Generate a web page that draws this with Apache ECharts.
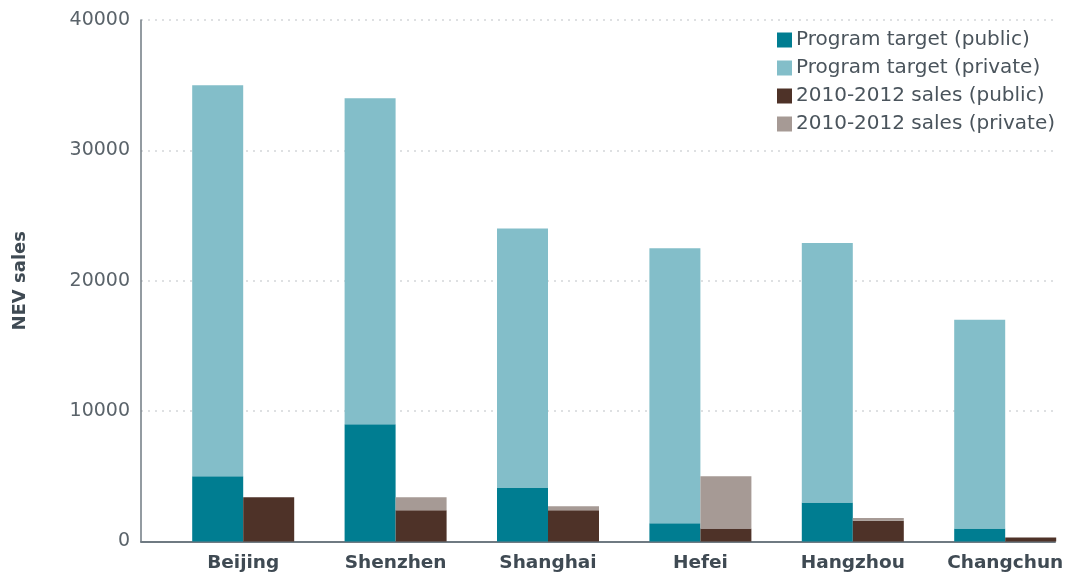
<!DOCTYPE html>
<html><head><meta charset="utf-8">
<script src="https://cdn.jsdelivr.net/npm/echarts@6/dist/echarts.min.js"></script>
<style>html,body{margin:0;padding:0;background:#fff}#c{width:1068px;height:575px}</style>
</head><body><div id="c"></div>
<script>
const categories = ['Beijing','Shenzhen','Shanghai','Hefei','Hangzhou','Changchun'];
const targetPublic = [5000, 9000, 4100, 1400, 3000, 1000];
const targetPrivate = [30000, 25000, 19900, 21100, 19900, 16000];
const salesPublic = [3400, 2400, 2400, 1000, 1600, 300];
const salesPrivate = [0, 1000, 300, 4000, 200, 0];
const yTicks = [0, 10000, 20000, 30000, 40000];

const font = '"DejaVu Sans", "Noto Sans", sans-serif';
const chart = echarts.init(document.getElementById('c'));
const barCommon = {type: 'bar', xAxisIndex: 1, yAxisIndex: 1, barWidth: 51, barGap: '0%', clip: false};
chart.setOption({
  animation: false,
  legend: {
    orient: 'vertical', left: 772, top: 25, itemWidth: 15, itemHeight: 15, itemGap: 8,
    icon: 'rect',
    textStyle: {fontFamily: font, fontSize: 20, color: '#4a545c', lineHeight: 16, padding: [0,0,0,-1]},
    data: ['Program target (public)','Program target (private)','2010-2012 sales (public)','2010-2012 sales (private)']
  },
  grid: [
    {left: 141, top: 20, width: 914, height: 521.5},
    {left: 243.2, top: 20, width: 762, height: 521.5}
  ],
  xAxis: [
    {type: 'category', gridIndex: 0, data: [''], axisLine: {lineStyle: {color: '#6f7a82', width: 2}}, axisTick: {show: false}, axisLabel: {show: false}},
    {type: 'category', gridIndex: 1, data: categories, boundaryGap: false, axisLine: {show: false}, axisTick: {show: false},
      splitLine: {show: false},
      axisLabel: {fontFamily: font, fontSize: 18.5, fontWeight: 'bold', color: '#3f4a53', margin: 12}}
  ],
  yAxis: [
    {type: 'value', gridIndex: 0, min: yTicks[0], max: yTicks[yTicks.length-1], interval: 10000,
      name: 'NEV sales', nameLocation: 'middle', nameGap: 112, nameRotate: 90,
      nameTextStyle: {fontFamily: font, fontSize: 18, fontWeight: 'bold', color: '#3f4a53'},
      axisLine: {show: true, lineStyle: {color: '#6f7a82', width: 1.5}}, axisTick: {show: false},
      axisLabel: {fontFamily: font, fontSize: 19, color: '#5a636a', margin: 11, formatter: v => String(v)},
      splitLine: {show: true, lineStyle: {color: '#d3d6d9', type: [2, 5], width: 1.5}}},
    {type: 'value', gridIndex: 1, min: yTicks[0], max: yTicks[yTicks.length-1], interval: 10000, show: false, splitLine: {show: false}}
  ],
  series: [
    Object.assign({name: 'Program target (public)', stack: 't', data: targetPublic, itemStyle: {color: '#007d91'}}, barCommon),
    Object.assign({name: 'Program target (private)', stack: 't', data: targetPrivate, itemStyle: {color: '#83bec9'}}, barCommon),
    Object.assign({name: '2010-2012 sales (public)', stack: 's', data: salesPublic, itemStyle: {color: '#4e3228'}}, barCommon),
    Object.assign({name: '2010-2012 sales (private)', stack: 's', data: salesPrivate, itemStyle: {color: '#a69a95'}}, barCommon)
  ]
});
</script></body></html>
